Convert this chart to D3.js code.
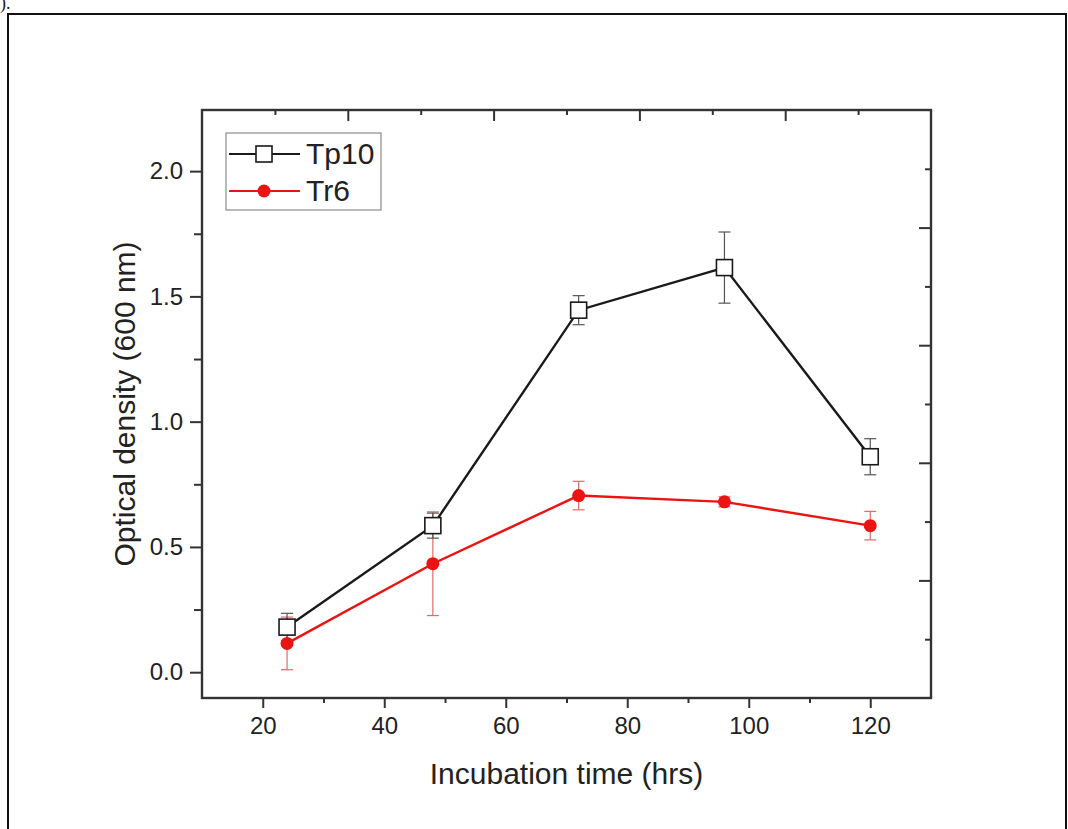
<!DOCTYPE html>
<html>
<head>
<meta charset="utf-8">
<script src="https://cdn.jsdelivr.net/npm/d3@7"></script>
<style>
  html, body { margin: 0; padding: 0; background: #fff; }
  svg { display: block; }
  text { font-family: "Liberation Sans", Arial, sans-serif; fill: #222; }
</style>
</head>
<body>
<svg id="chart" width="1068" height="829"></svg>
<script>
// ---- data ----
const hours = [24, 48, 72, 96, 120];
const tp10 = [0.18, 0.585, 1.445, 1.615, 0.86];
const tp10Err = [0.055, 0.05, 0.058, 0.142, 0.072];
const tr6 = [0.115, 0.433, 0.705, 0.68, 0.585];
const tr6Err = [0.105, 0.207, 0.057, 0.02, 0.057];
const seriesNames = ["Tp10", "Tr6"];
const xTicks = [20, 40, 60, 80, 100, 120];
const yTicks = [0.0, 0.5, 1.0, 1.5, 2.0];
const xLabel = "Incubation time (hrs)";
const yLabel = "Optical density (600 nm)";

const svg = d3.select("#chart");
const L = 202, R = 931, T = 110, B = 698;
const red = "#ec1313";

// outer border & caption fragment
svg.append("rect").attr("x", 8).attr("y", 14).attr("width", 1058).attr("height", 830)
  .attr("fill", "none").attr("stroke", "#111").attr("stroke-width", 2);
svg.append("text").attr("x", 0).attr("y", 9).style("font-family", "Liberation Serif, serif")
  .style("font-size", "18px").attr("fill", "#111").text(").");

const x = d3.scaleLinear().domain([10, 130]).range([L, R]);
const y = d3.scaleLinear().domain([-0.103, 2.244]).range([B, T]);
// mirror axes (as printed in the source figure)
const xTop = d3.scaleLinear().domain([0, 100]).range([L, R]);
const yRight = d3.scaleLinear().domain([0, 2.5]).range([B, T]);

const axisColor = "#333";
function styleAxis(g) {
  g.select(".domain").remove();
  g.selectAll("line").attr("stroke", axisColor).attr("stroke-width", 2);
  g.selectAll("text").style("font-size", "24px").attr("fill", "#222");
}

// bottom axis
const gx = svg.append("g").attr("transform", `translate(0,${B})`)
  .call(d3.axisBottom(x).tickValues(xTicks).tickSize(10).tickPadding(9).tickFormat(d3.format("d")));
styleAxis(gx);
gx.selectAll("text").attr("dy", "0.71em");
const gxm = svg.append("g").attr("transform", `translate(0,${B})`)
  .call(d3.axisBottom(x).tickValues([30, 50, 70, 90, 110]).tickSize(5).tickFormat(""));
styleAxis(gxm);

// left axis
const gy = svg.append("g").attr("transform", `translate(${L},0)`)
  .call(d3.axisLeft(y).tickValues(yTicks).tickSize(12).tickPadding(7).tickFormat(d3.format(".1f")));
styleAxis(gy);
const gym = svg.append("g").attr("transform", `translate(${L},0)`)
  .call(d3.axisLeft(y).tickValues([0.25, 0.75, 1.25, 1.75]).tickSize(8).tickFormat(""));
styleAxis(gym);

// top mirror axis (inward)
const gt = svg.append("g").attr("transform", `translate(0,${T})`)
  .call(d3.axisTop(xTop).tickValues([20, 40, 60, 80]).tickSize(-11).tickFormat(""));
styleAxis(gt);
const gtm = svg.append("g").attr("transform", `translate(0,${T})`)
  .call(d3.axisTop(xTop).tickValues([10, 30, 50, 70, 90]).tickSize(-5).tickFormat(""));
styleAxis(gtm);

// right mirror axis (inward)
const gr = svg.append("g").attr("transform", `translate(${R},0)`)
  .call(d3.axisRight(yRight).tickValues([0.5, 1.0, 1.5, 2.0]).tickSize(-12).tickFormat(""));
styleAxis(gr);
const grm = svg.append("g").attr("transform", `translate(${R},0)`)
  .call(d3.axisRight(yRight).tickValues([0.25, 0.75, 1.25, 1.75, 2.25]).tickSize(-6).tickFormat(""));
styleAxis(grm);

// frame
svg.append("rect").attr("x", L).attr("y", T).attr("width", R - L).attr("height", B - T)
  .attr("fill", "none").attr("stroke", axisColor).attr("stroke-width", 2.4);

// axis titles
svg.append("text").attr("x", (L + R) / 2).attr("y", 784).attr("text-anchor", "middle")
  .style("font-size", "30px").text(xLabel);
svg.append("text").attr("transform", `translate(135,${(T + B) / 2}) rotate(-90)`)
  .attr("text-anchor", "middle").style("font-size", "30px").text(yLabel);

const tpData = hours.map((h, i) => ({ x: h, y: tp10[i], e: tp10Err[i] }));
const trData = hours.map((h, i) => ({ x: h, y: tr6[i], e: tr6Err[i] }));
const line = d3.line().x(d => x(d.x)).y(d => y(d.y));

function errorBars(data, color, width) {
  const g = svg.append("g").attr("stroke", color).attr("stroke-width", width).attr("fill", "none");
  data.forEach(d => {
    const cx = x(d.x), y1 = y(d.y + d.e), y2 = y(d.y - d.e);
    g.append("line").attr("x1", cx).attr("x2", cx).attr("y1", y1).attr("y2", y2);
    g.append("line").attr("x1", cx - 6).attr("x2", cx + 6).attr("y1", y1).attr("y2", y1);
    g.append("line").attr("x1", cx - 6).attr("x2", cx + 6).attr("y1", y2).attr("y2", y2);
  });
}

// Tr6 series
errorBars(trData, "#e06a6a", 1.2);
svg.append("path").datum(trData).attr("d", line).attr("fill", "none")
  .attr("stroke", red).attr("stroke-width", 2.4);
// Tp10 series
errorBars(tpData, "#555", 1.2);
svg.append("path").datum(tpData).attr("d", line).attr("fill", "none")
  .attr("stroke", "#1a1a1a").attr("stroke-width", 2.4);

svg.append("g").selectAll("circle").data(trData).join("circle")
  .attr("cx", d => x(d.x)).attr("cy", d => y(d.y)).attr("r", 6.5).attr("fill", red);
svg.append("g").selectAll("rect").data(tpData).join("rect")
  .attr("x", d => x(d.x) - 8).attr("y", d => y(d.y) - 8).attr("width", 16).attr("height", 16)
  .attr("fill", "#fff").attr("stroke", "#1a1a1a").attr("stroke-width", 1.6);

// legend
const lg = svg.append("g");
lg.append("rect").attr("x", 226).attr("y", 133).attr("width", 155).attr("height", 77)
  .attr("fill", "#fff").attr("stroke", "#8a8a8a").attr("stroke-width", 1.2);
const legendRows = [
  { name: seriesNames[0], color: "#1a1a1a", cy: 154, marker: "square" },
  { name: seriesNames[1], color: red, cy: 191, marker: "circle" }
];
legendRows.forEach(r => {
  lg.append("line").attr("x1", 229).attr("x2", 300).attr("y1", r.cy).attr("y2", r.cy)
    .attr("stroke", r.color).attr("stroke-width", 2);
  if (r.marker === "square") {
    lg.append("rect").attr("x", 256).attr("y", r.cy - 8).attr("width", 16).attr("height", 16)
      .attr("fill", "#fff").attr("stroke", r.color).attr("stroke-width", 1.6);
  } else {
    lg.append("circle").attr("cx", 264).attr("cy", r.cy).attr("r", 6.5).attr("fill", r.color);
  }
  lg.append("text").attr("x", 306).attr("y", r.cy + 10).style("font-size", "30px").text(r.name);
});
</script>
</body>
</html>
